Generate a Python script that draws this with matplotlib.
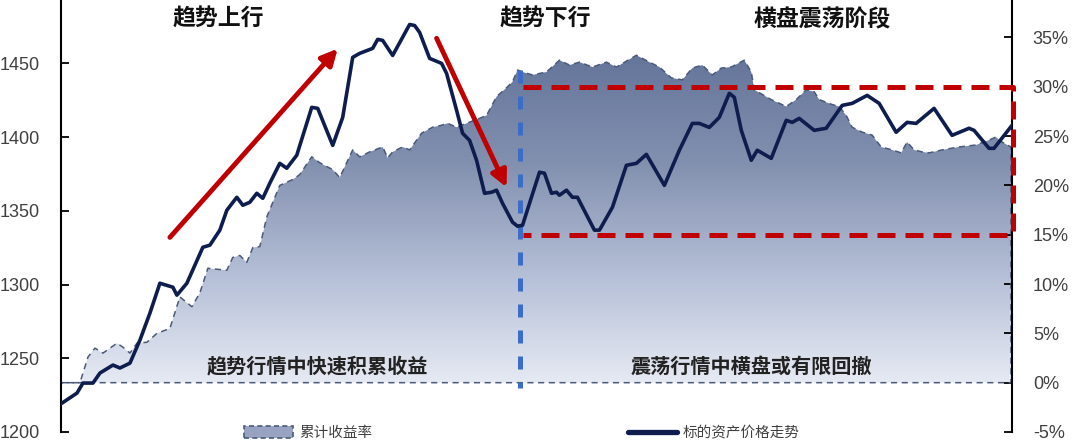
import numpy as np
import matplotlib
matplotlib.use('Agg')
import matplotlib.pyplot as plt
from matplotlib.colors import LinearSegmentedColormap
from matplotlib.patches import Patch
from matplotlib.lines import Line2D

plt.rcParams['font.family'] = ['Liberation Sans', 'Noto Sans CJK SC', 'DejaVu Sans']

# trading day index / price of the underlying
price_day = [0, 15, 21, 31, 38, 51, 58, 68, 78, 88, 98, 111, 115, 125, 141, 148, 158, 165,
             175, 181, 188, 195, 201, 208, 218, 225, 235, 250, 256, 271, 281, 291, 298, 311,
             316, 321, 331, 348, 353, 358, 368, 380, 385, 395, 401, 408, 415, 423, 430, 435,
             441, 451, 456, 461, 468, 478, 483, 490, 495, 498, 505, 511, 516, 533, 538, 551,
             565, 575, 585, 603, 618, 631, 638, 648, 658, 668, 673, 680, 690, 696, 710, 725,
             731, 738, 753, 765, 781, 791, 806, 818, 835, 846, 855, 873, 891, 908, 913, 928,
             933, 951]
price = [1219.6, 1226.4, 1233.2, 1233.2, 1240.0, 1245.4, 1243.4, 1246.7, 1262.3, 1280.6,
         1300.9, 1298.2, 1292.8, 1300.9, 1325.3, 1326.7, 1336.9, 1350.4, 1359.2, 1353.8,
         1355.8, 1361.9, 1358.5, 1368.7, 1382.2, 1378.9, 1387.7, 1420.2, 1419.5, 1394.4,
         1413.4, 1454.1, 1456.8, 1460.2, 1466.3, 1465.6, 1455.4, 1476.4, 1475.7, 1471.0,
         1453.4, 1450.0, 1443.2, 1418.2, 1402.6, 1397.8, 1384.3, 1361.9, 1362.6, 1364.0,
         1355.1, 1342.3, 1339.6, 1340.2, 1355.1, 1376.2, 1375.5, 1361.9, 1362.6, 1360.6,
         1364.0, 1359.2, 1359.2, 1336.9, 1336.9, 1352.4, 1380.9, 1382.2, 1388.3, 1367.3,
         1391.1, 1409.3, 1409.3, 1406.6, 1413.4, 1429.7, 1427.0, 1404.6, 1384.3, 1391.1,
         1385.6, 1411.4, 1410.0, 1412.7, 1404.6, 1406.0, 1421.5, 1422.9, 1428.3, 1422.9,
         1403.3, 1410.0, 1409.3, 1419.5, 1401.2, 1406.0, 1404.6, 1392.4, 1392.4, 1408.0]

# cumulative return (%) of the strategy
ret_day = [0, 18, 26, 33, 41, 55, 61, 68, 75, 85, 95, 108, 118, 130, 138, 146, 165, 171,
           178, 185, 191, 198, 205, 218, 231, 238, 250, 258, 271, 278, 291, 298, 308, 321,
           326, 331, 341, 348, 360, 371, 380, 386, 395, 405, 418, 425, 435, 445, 451, 456,
           461, 471, 485, 498, 508, 518, 531, 545, 555, 575, 588, 598, 610, 621, 631, 641,
           651, 660, 670, 683, 690, 693, 698, 710, 725, 735, 745, 753, 758, 771, 778, 785,
           791, 801, 811, 820, 831, 840, 846, 853, 861, 868, 881, 898, 915, 928, 935, 941, 950]
ret = [0.0, 0.0, 2.6, 3.5, 3.0, 4.0, 3.6, 3.0, 4.0, 4.1, 5.0, 5.5, 8.7, 7.7, 9.1, 11.6,
       11.4, 12.7, 12.9, 12.2, 13.7, 13.8, 16.8, 20.0, 20.6, 21.1, 22.9, 22.3, 21.6, 20.8,
       23.6, 22.9, 23.4, 23.9, 22.8, 23.4, 23.9, 23.6, 25.3, 25.9, 26.1, 26.3, 25.9, 26.3,
       26.8, 27.1, 29.0, 29.9, 30.5, 31.7, 31.5, 31.2, 31.5, 32.7, 32.2, 32.5, 32.0, 32.5,
       32.0, 33.2, 32.5, 32.0, 30.9, 30.7, 31.9, 32.2, 31.2, 31.9, 32.0, 32.7, 31.5, 29.7,
       29.4, 28.7, 28.0, 28.7, 29.7, 29.5, 28.7, 28.2, 28.0, 27.1, 25.9, 25.4, 25.1, 23.9,
       23.6, 23.3, 24.4, 23.6, 23.4, 23.3, 23.6, 23.9, 24.1, 24.6, 24.9, 24.4, 23.9]

left_ticks = [1200, 1250, 1300, 1350, 1400, 1450]
right_ticks = [-5, 0, 5, 10, 15, 20, 25, 30, 35]

split_day = 458          # end of the down trend
range_low, range_high = 15, 30

phase_titles = ['趋势上行', '趋势下行', '横盘震荡阶段']
notes = ['趋势行情中快速积累收益', '震荡行情中横盘或有限回撤']

RED = '#c00000'
NAVY = '#0e1d4e'
EDGE = '#4a5a78'

fig = plt.figure(figsize=(10.75, 4.43), dpi=100)
ax = fig.add_axes([61 / 1075, 11 / 443, 951 / 1075, 432 / 443])
ax2 = ax.twinx()
ax.set_zorder(ax2.get_zorder() + 1)
ax.patch.set_visible(False)

# cumulative return area with vertical gradient
poly = ax2.fill_between(ret_day, ret, 0, color='none', lw=0)
cmap = LinearSegmentedColormap.from_list('g', ['#e6eaf3', '#b4bed6', '#8391b0', '#64759a'])
grad = np.linspace(0, 1, 256).reshape(-1, 1)
im = ax2.imshow(grad, extent=[ret_day[0], ret_day[-1], 0, max(ret)], origin='lower',
                aspect='auto', cmap=cmap, zorder=1)
im.set_clip_path(poly.get_paths()[0], transform=ax2.transData)
ax2.plot(ret_day + [ret_day[-1], ret_day[0]], ret + [0, 0], color=EDGE, lw=1.1,
         dashes=(4, 3), zorder=2)

# split between trend and range phases
ax2.plot([split_day, split_day], [31.7, -0.5], color='#3a6cc8', lw=3.6,
         dashes=(2.6, 2.6), zorder=3)

ax2.set_xlim(-1, 951)
ax2.set_ylim(-5, 38.8)
ax2.set_yticks(right_ticks)
ax2.set_yticklabels([f'{t}%' for t in right_ticks])

# price line
ax.plot(price_day, price, color=NAVY, lw=2.6, solid_joinstyle='round', zorder=4)
ax.set_xlim(-1, 951)
ax.set_ylim(1200, 1493)
ax.set_yticks(left_ticks)

# range box
box_x = [split_day + 3, 952, 952, split_day + 3]
box_y = [range_high, range_high, range_low, range_low]
ax.plot(box_x, box_y, color=RED, lw=3.6, dashes=(3.6, 2.0), transform=ax2.transData,
        clip_on=False, zorder=6)

# trend arrows
arrow = dict(arrowstyle='-|>', color=RED, lw=3.5, mutation_scale=24, shrinkA=0, shrinkB=0)
ax.annotate('', xy=(276, 1460), xytext=(108, 1332), arrowprops=arrow, zorder=7)
ax.annotate('', xy=(445, 1366), xytext=(375, 1467), arrowprops=arrow, zorder=7)

for x, t in zip([0.165, 0.509, 0.800], phase_titles):
    ax.text(x, 0.955, t, transform=ax.transAxes, ha='center', va='center',
            fontsize=16.5, fontweight='bold', color='#111111', zorder=8)
for x, t in zip([0.270, 0.726], notes):
    ax.text(x, 0.152, t, transform=ax.transAxes, ha='center', va='center',
            fontsize=14.5, fontweight='bold', color='#222222', zorder=8)

for a in (ax, ax2):
    a.spines['top'].set_visible(False)
    a.spines['bottom'].set_visible(False)
    a.tick_params(axis='x', bottom=False, labelbottom=False)
for a, side in ((ax, 'left'), (ax2, 'right')):
    a.spines[side].set_linewidth(1.5)
    a.tick_params(axis='y', direction='in', length=6, width=1.3, pad=15,
                  labelsize=13, labelcolor='#404040')
ax.spines['right'].set_visible(False)
ax2.spines['left'].set_visible(False)

handles = [Patch(facecolor='#97a3c0', edgecolor=EDGE, linestyle=(0, (3, 2)), lw=1.2),
           Line2D([0], [0], color=NAVY, lw=3.8, solid_capstyle='round')]
fig.legend(handles, ['累计收益率', '标的资产价格走势'], loc='center',
           bbox_to_anchor=(522 / 1075, 10 / 443), ncol=2, frameon=False, fontsize=10.5,
           handlelength=3.4, handleheight=0.8, handletextpad=0.4, columnspacing=17.5,
           labelcolor='#404040')

fig.savefig('out.png', dpi=100)
